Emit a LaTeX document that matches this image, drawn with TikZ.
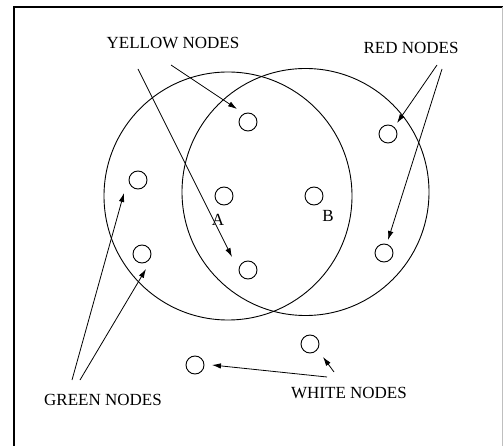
\documentclass[tikz,border=0pt]{standalone}
\usepackage{fontspec}
\setmainfont{Liberation Serif}
\usetikzlibrary{arrows.meta}

\begin{document}
\begin{tikzpicture}[
  x=1pt, y=-1pt,
  font=\fontsize{17}{20}\selectfont,
  region/.style={draw, circle, line width=0.9pt, minimum size=248pt, inner sep=0pt},
  vertex/.style={draw, circle, line width=0.9pt, minimum size=18pt, inner sep=0pt},
  tag/.style={inner sep=0pt},
  pointer/.style={-{Latex[length=9pt,width=5.5pt]}, line width=0.8pt}
]
\useasboundingbox (0,0) rectangle (503,446);
% frame
\draw[line width=1.2pt] (14,446) -- (14,7) -- (503,7);
\draw[black!25, line width=0.8pt] (502,7) -- (502,446);

% the two sets
\node[region] (setA) at (228,196) {};
\node[region, minimum size=247pt] (setB) at (305.5,192) {};

% nodes
\node[vertex] (ytop) at (248,122) {};
\node[vertex] (ybot) at (248,270) {};
\node[vertex] (a) at (224,196) {};
\node[vertex] (b) at (314,196) {};
\node[vertex] (gtop) at (138,180) {};
\node[vertex] (gbot) at (142,254) {};
\node[vertex] (rtop) at (388,134) {};
\node[vertex] (rbot) at (384,253) {};
\node[vertex] (wright) at (310,344) {};
\node[vertex] (wleft) at (195,365) {};
\node[tag] (alab) at (218,220) {A};
\node[tag] (blab) at (328,216) {B};

% labels
\node[tag] (ylab) at (173,43.5) {YELLOW NODES};
\node[tag] (rlab) at (411,47.5) {RED NODES};
\node[tag] (glab) at (103,399.5) {GREEN NODES};
\node[tag] (wlab) at (349,393) {WHITE NODES};

% arrow ends
\coordinate (y1s) at (138,69);   \coordinate (y1e) at (232,257);
\coordinate (y2s) at (171,65);   \coordinate (y2e) at (237,109);
\coordinate (r1s) at (437,65);   \coordinate (r1e) at (397,123);
\coordinate (r2s) at (442,69);   \coordinate (r2e) at (388,240);
\coordinate (g1s) at (72,380);   \coordinate (g1e) at (124,193);
\coordinate (g2s) at (80,380);   \coordinate (g2e) at (146,269);
\coordinate (w1s) at (327,377);  \coordinate (w1e) at (212,365);
\coordinate (w2s) at (334,372);  \coordinate (w2e) at (323,357);

\draw[pointer] (y1s) -- (y1e);
\draw[pointer] (y2s) -- (y2e);
\draw[pointer] (r1s) -- (r1e);
\draw[pointer] (r2s) -- (r2e);
\draw[pointer] (g1s) -- (g1e);
\draw[pointer] (g2s) -- (g2e);
\draw[pointer] (w1s) -- (w1e);
\draw[pointer] (w2s) -- (w2e);
\end{tikzpicture}
\end{document}
